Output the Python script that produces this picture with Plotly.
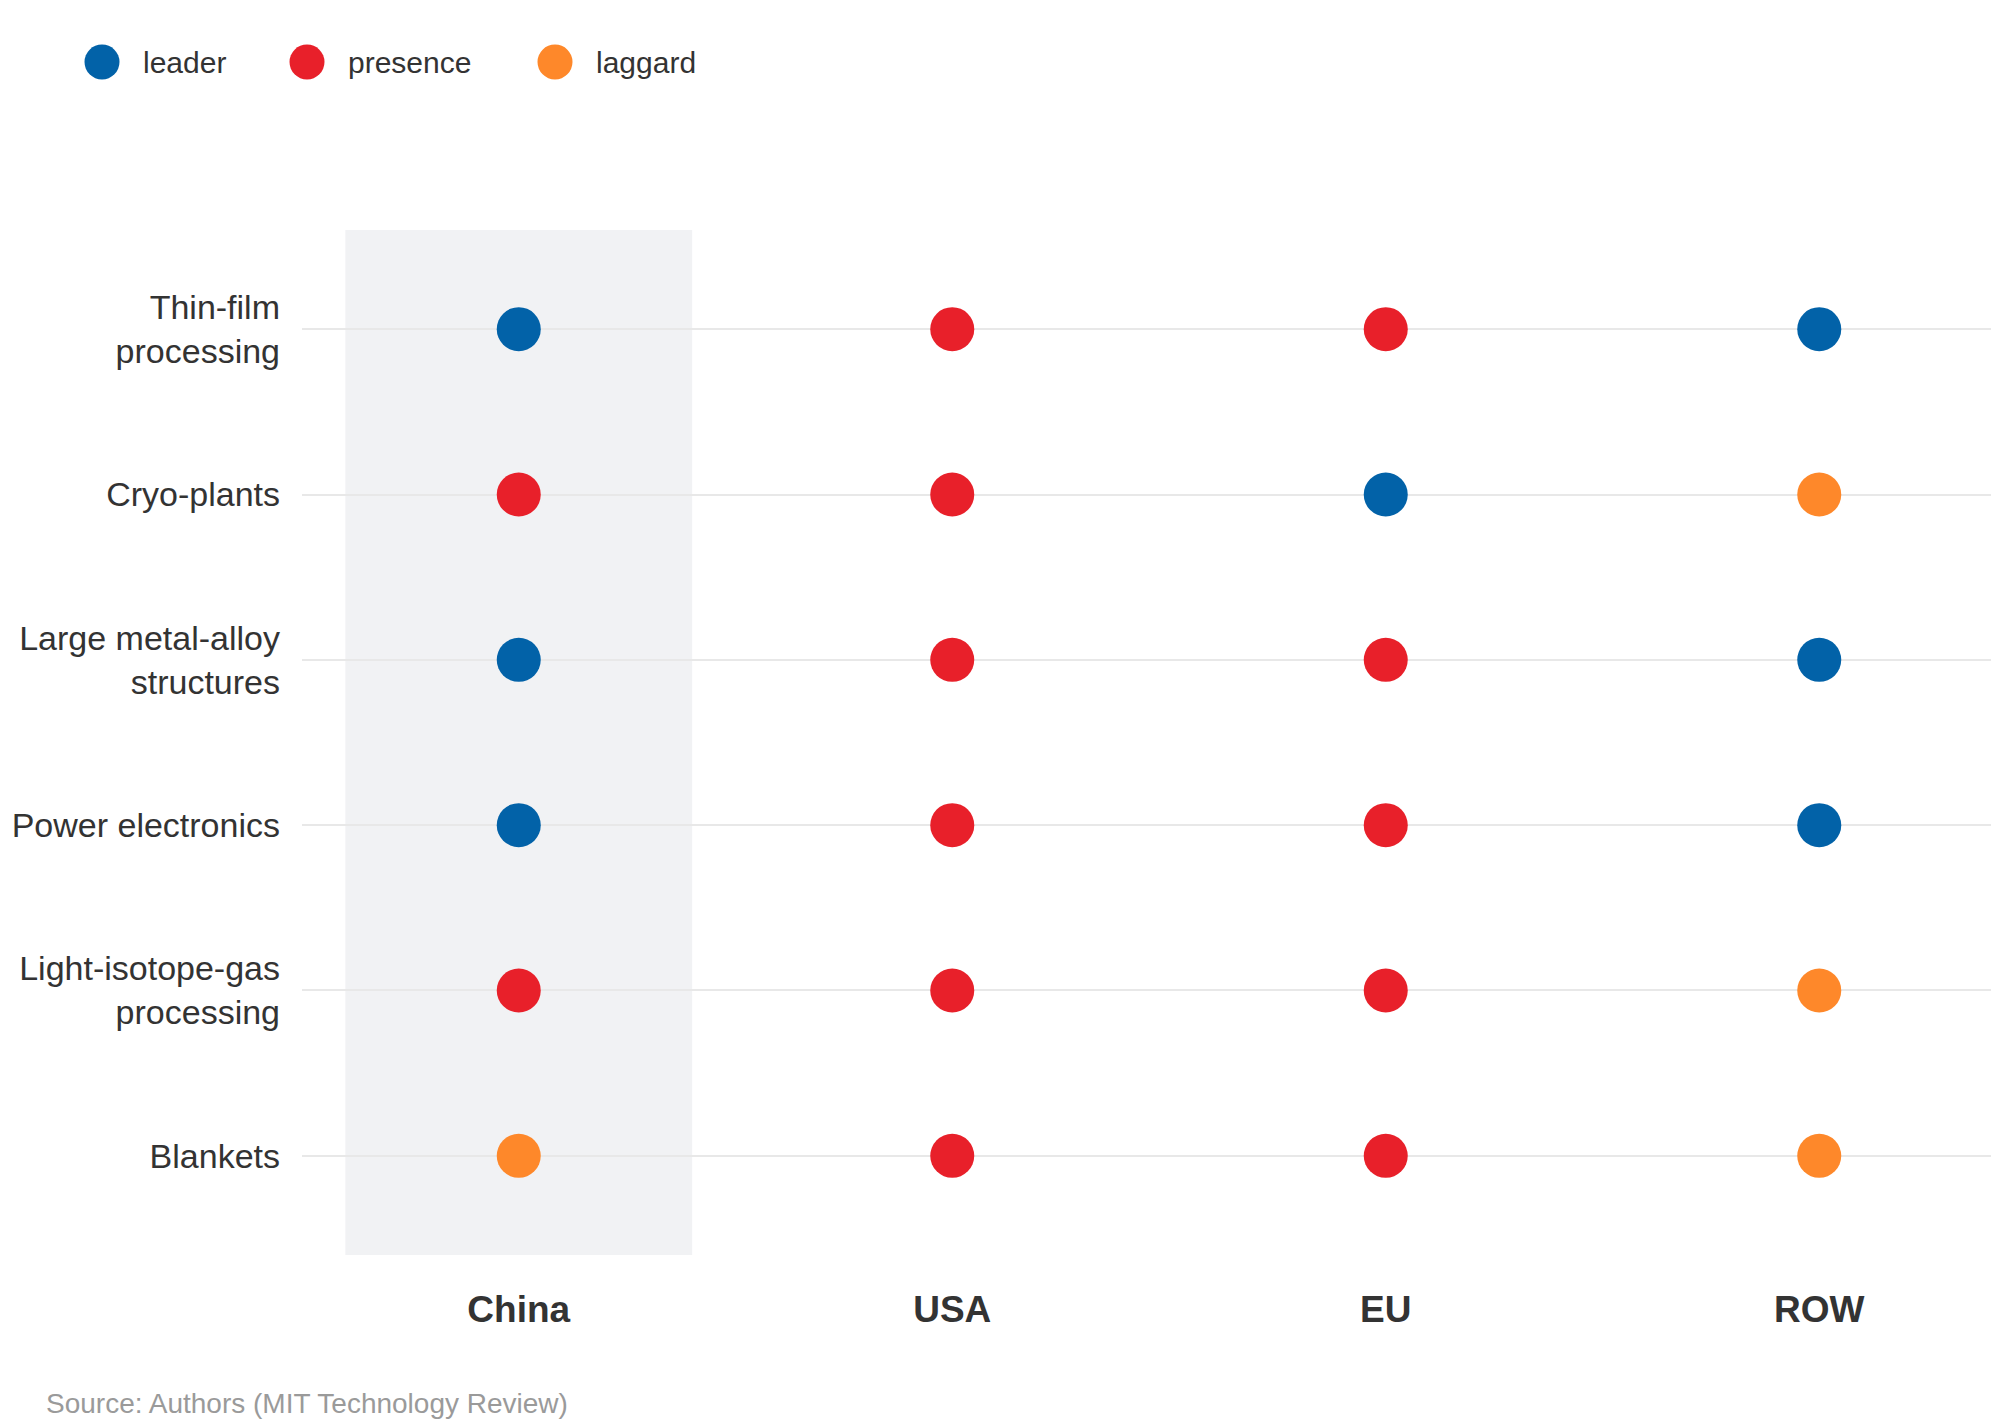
import plotly.graph_objects as go

# ---------------- data ----------------
countries = ["China", "USA", "EU", "ROW"]
technologies = ["Thin-film processing", "Cryo-plants", "Large metal-alloy structures",
                "Power electronics", "Light-isotope-gas processing", "Blankets"]
tech_labels = ["Thin-film<br>processing", "Cryo-plants", "Large metal-alloy<br>structures",
               "Power electronics", "Light-isotope-gas<br>processing", "Blankets"]

china = ["leader", "presence", "leader", "leader", "presence", "laggard"]
usa = ["presence", "presence", "presence", "presence", "presence", "presence"]
eu = ["presence", "leader", "presence", "presence", "presence", "presence"]
row = ["leader", "laggard", "leader", "leader", "laggard", "laggard"]

statuses = ["leader", "presence", "laggard"]
highlight = "China"
source_text = "Source: Authors (MIT Technology Review)"

# ---------------- style / layout ----------------
W, H = 2007, 1411              # page adds an 8px body margin
ML, MR, MT, MB = 294, 0, 222, 164
PW, PH = W - ML - MR, H - MT - MB
COL_SPACING = 433.5
colors = {"leader": "#0262a8", "presence": "#e8202a", "laggard": "#fe882a"}
FONT = "Liberation Sans, Arial, sans-serif"
TEXT = "#333333"

# legend layout (figure pixels)
LEG_DOT_X = [94, 299, 547]
LEG_TEXT_X = [133, 338, 586]
LEG_Y = 54
LEG_DOT = 35


def paper_x(fx):
    return (fx - ML) / PW


def paper_y(fy):
    return (H - MB - fy) / PH


by_country = {"China": china, "USA": usa, "EU": eu, "ROW": row}

fig = go.Figure()

for st in statuses:
    xs, ys = [], []
    for c in countries:
        for t, s in zip(technologies, by_country[c]):
            if s == st:
                xs.append(c)
                ys.append(t)
    fig.add_trace(go.Scatter(
        x=xs, y=ys, mode="markers", name=st, showlegend=False,
        marker=dict(size=44, color=colors[st], line=dict(width=0)),
        hoverinfo="x+y+name",
    ))

# highlight band behind the selected country column
hi = countries.index(highlight)
fig.add_shape(type="rect", xref="x", yref="paper",
              x0=hi - 0.4, x1=hi + 0.4, y0=0, y1=1,
              fillcolor="#f1f2f4", line=dict(width=0), layer="below")

# legend: large dots + labels
for st, dx, tx in zip(statuses, LEG_DOT_X, LEG_TEXT_X):
    fig.add_shape(type="circle", xref="paper", yref="paper",
                  xsizemode="pixel", ysizemode="pixel",
                  xanchor=paper_x(dx), yanchor=paper_y(LEG_Y),
                  x0=-LEG_DOT / 2, x1=LEG_DOT / 2, y0=-LEG_DOT / 2, y1=LEG_DOT / 2,
                  fillcolor=colors[st], line=dict(width=0), layer="above")
    fig.add_annotation(text=st, xref="paper", yref="paper",
                       x=paper_x(tx), y=paper_y(LEG_Y),
                       xanchor="left", yanchor="middle", showarrow=False,
                       font=dict(family=FONT, size=30, color=TEXT))

fig.add_annotation(text=source_text, xref="paper", yref="paper",
                   x=paper_x(36), y=paper_y(1395),
                   xanchor="left", yanchor="middle", showarrow=False,
                   font=dict(family=FONT, size=28, color="#9a9a9a"))

fig.update_layout(
    width=W, height=H,
    margin=dict(l=ML, r=MR, t=MT, b=MB, pad=0),
    paper_bgcolor="white", plot_bgcolor="white",
    font=dict(family=FONT, color=TEXT),
    xaxis=dict(type="category", categoryarray=countries,
               range=[-0.5, -0.5 + PW / COL_SPACING],
               showgrid=False, zeroline=False, showline=False, ticks="",
               tickfont=dict(family=FONT, size=37, color=TEXT, weight="bold"),
               ticklabelstandoff=29, fixedrange=True),
    yaxis=dict(type="category", categoryarray=technologies, range=[5.6, -0.6],
               tickvals=technologies, ticktext=tech_labels,
               showgrid=True, gridcolor="#e8e8e8", gridwidth=2,
               zeroline=False, showline=False, ticks="",
               tickfont=dict(family=FONT, size=34, color=TEXT),
               ticklabelstandoff=21, fixedrange=True),
    showlegend=False,
)

fig.write_html("out.html")
